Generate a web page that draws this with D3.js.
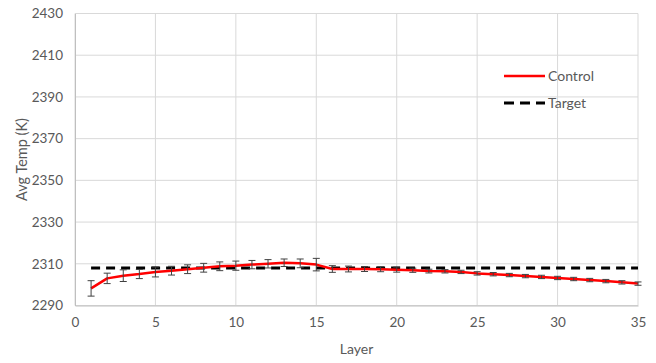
<!DOCTYPE html>
<html>
<head>
<meta charset="utf-8">
<script src="https://cdn.jsdelivr.net/npm/d3@7"></script>
<style>
  body { margin: 0; background: #fff; }
  text { font-family: Lato, "Open Sans", sans-serif; fill: #595959; }
</style>
</head>
<body>
<script>
// chart data
const layers = d3.range(1, 36);
const controlTemp = [2298.2, 2303.0, 2304.3, 2305.1, 2306.1, 2306.7, 2307.4, 2308.1, 2308.8, 2309.1,
                     2309.6, 2310.0, 2310.5, 2310.2, 2309.6, 2307.5, 2307.5, 2307.5, 2307.4, 2307.2,
                     2306.9, 2306.5, 2306.4, 2306.1, 2305.4, 2305.0, 2304.6, 2304.1, 2303.7, 2303.2,
                     2302.7, 2302.2, 2301.7, 2301.1, 2300.5];
const controlErr = [3.7, 2.5, 2.8, 2.2, 2.4, 2.1, 2.1, 2.1, 2.1, 2.2,
                    2.0, 2.0, 1.8, 2.1, 3.0, 1.6, 1.4, 1.2, 1.2, 1.2,
                    1.0, 0.9, 0.8, 0.8, 0.8, 0.8, 0.8, 0.8, 0.8, 0.8,
                    0.8, 0.8, 0.8, 0.8, 0.8];
const targetTemp = 2308;
const yTicks = [2290, 2310, 2330, 2350, 2370, 2390, 2410, 2430];
const xTicks = [0, 5, 10, 15, 20, 25, 30, 35];

const data = layers.map((l, i) => ({layer: l, temp: controlTemp[i], err: controlErr[i]}));

const width = 656, height = 363;
const margin = {top: 13.5, right: 18, bottom: 57.5, left: 75};
const w = width - margin.left - margin.right,
      h = height - margin.top - margin.bottom;

const svg = d3.select("body").append("svg")
    .attr("width", width)
    .attr("height", height);

const plot = svg.append("g")
    .attr("transform", `translate(${margin.left}, ${margin.top})`);

const x = d3.scaleLinear().domain([0, 35]).range([0, w]);
const y = d3.scaleLinear().domain([2290, 2430]).range([h, 0]);

// gridlines
plot.append("g")
    .selectAll("line")
    .data(yTicks)
    .enter().append("line")
    .attr("x1", 0).attr("x2", w)
    .attr("y1", d => y(d)).attr("y2", d => y(d))
    .attr("stroke", "#d9d9d9").attr("stroke-width", 1);

plot.append("g")
    .selectAll("line")
    .data(xTicks)
    .enter().append("line")
    .attr("x1", d => x(d)).attr("x2", d => x(d))
    .attr("y1", 0).attr("y2", h)
    .attr("stroke", "#d9d9d9").attr("stroke-width", 1);

// axes
const xAxis = plot.append("g")
    .attr("transform", `translate(0, ${h})`)
    .call(d3.axisBottom(x).tickValues(xTicks).tickFormat(d3.format("d")).tickSize(0).tickPadding(12));
xAxis.select(".domain").attr("stroke", "#bfbfbf");
xAxis.selectAll("text").style("font-size", "13.5px").attr("fill", "#595959");

const yAxis = plot.append("g")
    .call(d3.axisLeft(y).tickValues(yTicks).tickFormat(d3.format("d")).tickSize(0).tickPadding(12));
yAxis.select(".domain").attr("stroke", "#bfbfbf");
yAxis.selectAll("text").style("font-size", "13.5px").attr("fill", "#595959");

// axis titles
svg.append("text")
    .attr("x", margin.left + w / 2)
    .attr("y", 354)
    .attr("text-anchor", "middle")
    .style("font-size", "14px")
    .text("Layer");

svg.append("text")
    .attr("transform", `translate(27, ${margin.top + h / 2}) rotate(-90)`)
    .attr("text-anchor", "middle")
    .style("font-size", "14.5px")
    .text("Avg Temp (K)");

// target line
plot.append("line")
    .attr("x1", x(layers[0])).attr("x2", x(layers[layers.length - 1]))
    .attr("y1", y(targetTemp)).attr("y2", y(targetTemp))
    .attr("stroke", "#000").attr("stroke-width", 3)
    .attr("stroke-dasharray", "9,6");

// control line
plot.append("path")
    .datum(data)
    .attr("fill", "none")
    .attr("stroke", "#ff0000")
    .attr("stroke-width", 2.5)
    .attr("stroke-linejoin", "round")
    .attr("d", d3.line().x(d => x(d.layer)).y(d => y(d.temp)));

// error bars
const eb = plot.append("g").selectAll("g")
    .data(data)
    .enter().append("g")
    .attr("stroke", "#404040").attr("stroke-width", 1);
eb.append("line")
    .attr("x1", d => x(d.layer)).attr("x2", d => x(d.layer))
    .attr("y1", d => y(d.temp - d.err)).attr("y2", d => y(d.temp + d.err));
eb.append("line")
    .attr("x1", d => x(d.layer) - 3.5).attr("x2", d => x(d.layer) + 3.5)
    .attr("y1", d => y(d.temp - d.err)).attr("y2", d => y(d.temp - d.err));
eb.append("line")
    .attr("x1", d => x(d.layer) - 3.5).attr("x2", d => x(d.layer) + 3.5)
    .attr("y1", d => y(d.temp + d.err)).attr("y2", d => y(d.temp + d.err));

// legend
const legend = svg.append("g");
legend.append("line")
    .attr("x1", 504).attr("x2", 545).attr("y1", 76).attr("y2", 76)
    .attr("stroke", "#ff0000").attr("stroke-width", 2.5);
legend.append("text")
    .attr("x", 548).attr("y", 76).attr("dy", ".35em")
    .style("font-size", "14px").text("Control");
legend.append("line")
    .attr("x1", 504).attr("x2", 545).attr("y1", 103).attr("y2", 103)
    .attr("stroke", "#000").attr("stroke-width", 3)
    .attr("stroke-dasharray", "10,6");
legend.append("text")
    .attr("x", 548).attr("y", 103).attr("dy", ".35em")
    .style("font-size", "14px").text("Target");
</script>
</body>
</html>
